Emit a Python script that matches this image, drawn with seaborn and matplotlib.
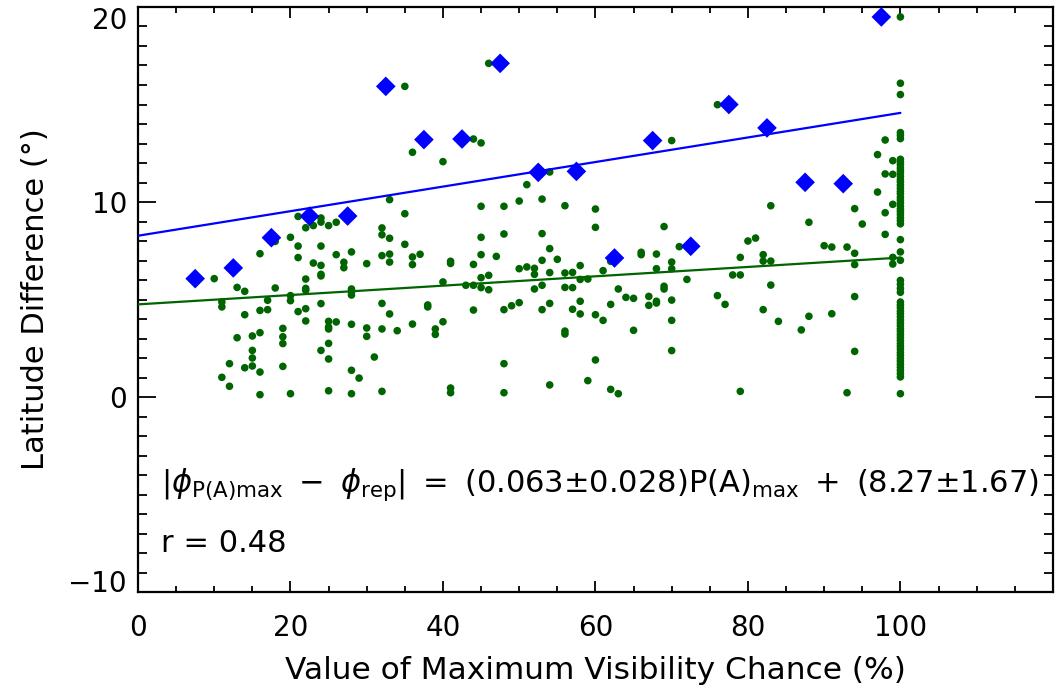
import matplotlib
matplotlib.use("Agg")
import matplotlib.pyplot as plt
import seaborn as sns
import pandas as pd
import numpy as np
from matplotlib.ticker import FixedLocator

# binned maxima (blue diamonds)
bin_centers = [7.5, 12.5, 17.5, 22.5, 27.5, 32.5, 37.5, 42.5, 47.5, 52.5,
               57.5, 62.5, 67.5, 72.5, 77.5, 82.5, 87.5, 92.5, 97.5]
bin_max_diff = [6.07, 6.62, 8.17, 9.27, 9.28, 15.93, 13.20, 13.23, 17.11, 11.52,
                11.57, 7.13, 13.15, 7.73, 15.00, 13.80, 11.01, 10.94, 19.49]

# individual events below 100 %
vis_chance = [
    45, 48, 50, 35, 21, 22, 23, 24, 24, 25, 26, 32, 32, 33, 35, 45, 48, 18, 20, 21,
    24, 16, 21, 26, 28, 23, 24, 27, 27, 30, 32, 33, 33, 36, 36, 37, 41, 41, 44, 45,
    47, 50, 51, 12, 10, 13, 14, 18, 22, 22, 22, 24, 24, 28, 28, 28, 20, 20, 17, 11,
    11, 40, 43, 44, 45, 45, 46, 46, 14, 16, 17, 21, 22, 22, 24, 25, 25, 25, 26, 28,
    30, 30, 32, 32, 33, 34, 36, 38, 38, 39, 39, 40, 44, 48, 49, 50, 19, 19, 19, 13,
    15, 16, 15, 15, 15, 14, 16, 12, 11, 12, 19, 24, 25, 25, 28, 29, 31, 16, 20, 25,
    28, 32, 41, 41, 48, 48,
    46, 35, 38, 44, 45, 36, 40, 51, 33,
    56, 60, 60, 53, 54, 53, 55, 52, 52, 54, 56, 57, 58, 58, 59, 61, 62, 53, 52, 56,
    57, 53, 54, 57, 58, 58, 60, 61, 62, 63, 64, 65, 65, 56, 56, 66, 66, 68, 68, 69,
    70, 70, 71, 72, 69, 69, 67, 67, 68, 68, 70, 70, 70, 60, 54, 59, 62, 63, 76, 77,
    78, 79, 79, 80, 81, 82, 82, 83, 83, 83, 82, 84, 79, 88, 88, 87, 90, 91, 91, 93,
    94, 95, 94, 94, 94, 94, 93, 98, 98, 99, 99, 99,
    76, 70, 54, 53, 98, 97, 99, 98, 99, 97,
]
lat_diff = [
    9.78, 9.78, 10.05, 9.40, 9.26, 8.68, 8.79, 9.18, 8.97, 8.79, 8.96, 8.67, 8.32, 8.14, 7.83, 8.19, 8.36, 7.98, 8.19, 7.74,
    7.74, 7.35, 7.15, 7.30, 7.44, 6.87, 6.75, 6.91, 6.63, 6.84, 7.25, 7.33, 6.92, 7.18, 6.79, 7.32, 6.96, 6.85, 6.80, 7.30,
    7.21, 6.58, 6.67, 6.62, 6.07, 5.62, 5.42, 5.59, 6.05, 5.57, 5.47, 6.29, 6.21, 5.54, 5.38, 5.23, 5.20, 4.94, 4.96, 4.87,
    4.62, 5.90, 5.73, 5.73, 6.12, 5.61, 6.24, 5.50, 4.22, 4.44, 4.48, 4.38, 4.53, 3.90, 4.79, 3.88, 3.59, 3.49, 3.85, 3.73,
    3.54, 3.11, 4.80, 3.49, 4.26, 3.40, 3.74, 4.72, 4.62, 3.49, 3.21, 3.86, 4.46, 4.48, 4.68, 4.84, 3.52, 3.09, 2.74, 3.04,
    3.13, 3.30, 2.39, 2.00, 1.59, 1.50, 1.28, 1.71, 1.01, 0.55, 1.57, 2.39, 2.75, 1.95, 1.37, 0.97, 2.05, 0.12, 0.17, 0.32,
    0.17, 0.29, 0.46, 0.22, 1.71, 0.22,
    17.11, 15.93, 13.20, 13.23, 13.03, 12.55, 12.07, 10.89, 10.12,
    9.81, 9.64, 8.70, 8.38, 7.61, 7.01, 7.06, 6.60, 6.29, 6.38, 6.36, 6.39, 6.74, 6.03, 6.05, 6.48, 6.96, 5.73, 5.54, 5.62,
    5.61, 4.48, 4.80, 4.50, 4.91, 4.26, 4.22, 3.93, 4.75, 5.54, 5.11, 5.06, 3.42, 3.38, 3.23, 7.42, 7.30, 7.33, 6.58, 8.74,
    6.92, 6.58, 7.71, 6.03, 5.68, 5.54, 5.16, 4.70, 4.91, 4.82, 4.97, 3.93, 2.38, 1.90, 0.62, 0.84, 0.39, 0.17, 5.20, 4.75,
    6.26, 6.26, 7.16, 8.00, 8.15, 7.30, 6.97, 6.97, 9.81, 5.74, 4.48, 3.88, 0.29, 8.96, 4.14, 3.44, 7.76, 7.69, 4.27, 7.69,
    9.66, 8.87, 7.37, 6.79, 5.15, 2.34, 0.22, 9.45, 8.34, 9.88, 7.16, 6.82,
    14.99, 13.15, 11.54, 10.15, 13.18, 12.43, 12.12, 11.44, 11.42, 10.51,
]

# events with 100 % visibility chance
lat_diff_at_100 = [
    19.49, 16.09, 15.51, 13.56, 13.42, 13.25,
    12.19, 12.04, 11.91, 11.74, 11.60, 11.47, 11.31, 11.15, 11.02, 10.86, 10.70, 10.55,
    10.42, 10.24, 10.10, 9.96, 9.79, 9.64, 9.51, 9.36, 9.19, 9.05, 8.88,
    8.07, 7.44, 7.01, 5.98, 5.78, 5.57, 5.37,
    4.87, 4.72, 4.58, 4.41, 4.27, 4.12, 3.95, 3.81, 3.66, 3.50, 3.36, 3.20, 3.05,
    2.90, 2.74, 2.60, 2.45, 2.28, 2.14, 1.98, 1.83, 1.68, 1.52, 1.36, 1.20, 1.03,
    0.17,
]

# linear fits: upper envelope (blue) and all events (green)
fit_x = [0, 100]
upper_slope, upper_intercept = 0.063, 8.27
lower_slope, lower_intercept = 0.024, 4.75

x_ticks = [0, 20, 40, 60, 80, 100]
y_ticks = [-10, 0, 10, 20]

events = pd.DataFrame({
    "vis": vis_chance + [100] * len(lat_diff_at_100),
    "lat": lat_diff + lat_diff_at_100,
})
maxima = pd.DataFrame({"vis": bin_centers, "lat": bin_max_diff})
fits = pd.DataFrame({
    "vis": fit_x,
    "upper": [upper_intercept + upper_slope * v for v in fit_x],
    "lower": [lower_intercept + lower_slope * v for v in fit_x],
})

sns.set_style("ticks")
plt.rcParams["font.family"] = ["DejaVu Sans"]
plt.rcParams["mathtext.fontset"] = "dejavusans"
plt.rcParams["text.color"] = "black"
plt.rcParams["axes.labelcolor"] = "black"

fig = plt.figure(figsize=(10.55, 6.86), dpi=100)
ax = fig.add_axes([0.1308, 0.137, 0.8672, 0.8528])

green = "#006400"
sns.scatterplot(data=events, x="vis", y="lat", ax=ax, color=green, s=30,
                edgecolor="none", zorder=2)
sns.lineplot(data=fits, x="vis", y="lower", ax=ax, color=green, linewidth=1.6, zorder=3)
sns.lineplot(data=fits, x="vis", y="upper", ax=ax, color="#0000ff", linewidth=1.6, zorder=3)
sns.scatterplot(data=maxima, x="vis", y="lat", ax=ax, color="#0000ff", marker="D",
                s=100, edgecolor="none", zorder=4)

ax.set_xlim(0, 120)
ax.set_ylim(-10, 20)
ax.xaxis.set_major_locator(FixedLocator(x_ticks))
ax.xaxis.set_minor_locator(FixedLocator(np.arange(5, 120, 5)))
ax.yaxis.set_major_locator(FixedLocator(y_ticks))
ax.yaxis.set_minor_locator(FixedLocator(np.arange(-9, 20, 1)))

ax.tick_params(which="both", direction="in", top=True, right=True, width=1.3,
               labelsize=20, colors="black")
ax.tick_params(axis="x", which="major", length=8, pad=16)
ax.tick_params(axis="x", which="minor", length=4)
ax.tick_params(axis="y", which="major", length=13, pad=8)
ax.tick_params(axis="y", which="minor", length=6.5)
for sp in ax.spines.values():
    sp.set_linewidth(1.6)
    sp.set_color("black")

ax.set_xticklabels([str(t) for t in x_ticks])
ax.set_yticklabels([str(t).replace("-", "\u2212") for t in y_ticks])
ylabels = ax.get_yticklabels()
ylabels[0].set_va("baseline")
ylabels[-1].set_va("top")

ax.set_xlabel("Value of Maximum Visibility Chance (%)", fontsize=22.5, labelpad=10)
ax.set_ylabel("Latitude Difference (\u00b0)", fontsize=22, labelpad=13)

ax.text(3.0, -4.5,
        r"$|\phi_{\mathrm{P(A)max}}\ -\ \phi_{\mathrm{rep}}|\ =\ "
        r"(0.063{\pm}0.028)\mathrm{P(A)}_{\mathrm{max}}\ +\ (8.27{\pm}1.67)$",
        fontsize=22, va="center", ha="left")
ax.text(3.0, -7.5, "r = 0.48", fontsize=22, va="center", ha="left")

fig.savefig("out.png", dpi=100)
